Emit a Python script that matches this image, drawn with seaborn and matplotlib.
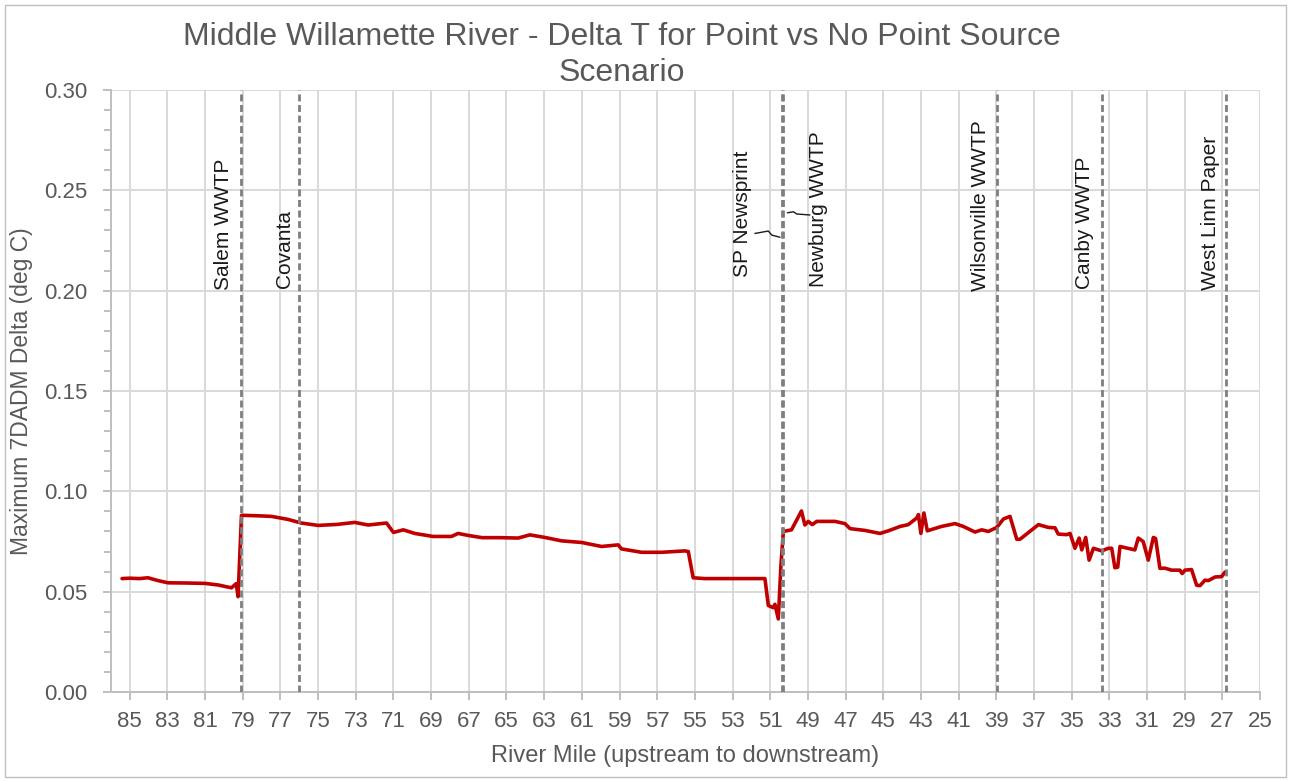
import matplotlib
matplotlib.use("Agg")
import matplotlib.pyplot as plt
import pandas as pd
import seaborn as sns
from matplotlib.ticker import MultipleLocator, FormatStrFormatter
from matplotlib.patches import Rectangle

# River mile (upstream -> downstream) and maximum 7DADM delta (deg C)
river_mile = [
    85.41, 85.0, 84.5, 84.03, 83.5, 82.97, 82.0, 81.0, 80.3, 79.6, 79.35, 79.25,
    79.07, 78.9, 78.2, 77.48, 76.6, 75.9, 75.0, 74.0, 73.05, 72.35, 71.37, 71.0,
    70.48, 69.87, 68.9, 67.92, 67.57, 67.03, 66.3, 65.35, 64.38, 63.76, 62.96,
    62.07, 61.01, 59.95, 59.07, 58.9, 57.83, 56.77, 55.53, 55.35, 55.09, 54.47,
    52.87, 51.28, 51.1, 50.84, 50.75, 50.57, 50.43, 50.3, 49.87, 49.34, 49.16,
    48.98, 48.77, 48.53, 47.56, 47.03, 46.76, 45.97, 45.17, 44.73, 44.1, 43.67,
    43.22, 43.13, 43.0, 42.84, 42.66, 41.9, 41.19, 40.75, 40.13, 39.77, 39.42,
    38.97, 38.62, 38.27, 37.91, 37.74, 36.76, 36.24, 35.88, 35.71, 35.26, 35.08,
    34.82, 34.6, 34.46, 34.25, 34.07, 33.84, 33.4, 33.05, 32.87, 32.7, 32.55,
    32.43, 31.64, 31.46, 31.2, 30.93, 30.66, 30.54, 30.31, 30.05, 29.69, 29.25,
    29.13, 28.98, 28.63, 28.36, 28.18, 27.92, 27.74, 27.38, 27.03, 26.85,
]
delta_t = [
    0.0565, 0.0567, 0.0565, 0.0569, 0.0555, 0.0544, 0.0543, 0.0541, 0.0533, 0.0519, 0.0540, 0.0475,
    0.0880, 0.0880, 0.0878, 0.0875, 0.0860, 0.0842, 0.0830, 0.0835, 0.0845, 0.0832, 0.0842, 0.0795,
    0.0808, 0.0790, 0.0775, 0.0775, 0.0790, 0.0780, 0.0769, 0.0769, 0.0767, 0.0783, 0.0770,
    0.0753, 0.0745, 0.0725, 0.0733, 0.0713, 0.0696, 0.0696, 0.0703, 0.0700, 0.0569, 0.0565,
    0.0565, 0.0565, 0.0431, 0.0420, 0.0437, 0.0364, 0.0632, 0.0800, 0.0808, 0.0902, 0.0832,
    0.0850, 0.0834, 0.0850, 0.0850, 0.0839, 0.0814, 0.0805, 0.0790, 0.0803, 0.0825, 0.0834,
    0.0867, 0.0884, 0.0790, 0.0892, 0.0803, 0.0825, 0.0839, 0.0825, 0.0797, 0.0808, 0.0800,
    0.0820, 0.0862, 0.0875, 0.0761, 0.0761, 0.0834, 0.0820, 0.0818, 0.0787, 0.0784, 0.0790,
    0.0716, 0.0767, 0.0708, 0.0770, 0.0657, 0.0716, 0.0703, 0.0716, 0.0716, 0.0619, 0.0622,
    0.0725, 0.0708, 0.0767, 0.0750, 0.0657, 0.0770, 0.0765, 0.0616, 0.0617, 0.0607, 0.0607,
    0.0590, 0.0607, 0.0610, 0.0532, 0.0530, 0.0557, 0.0555, 0.0573, 0.0575, 0.0598,
]

# Point sources along the reach
source_names = ["Salem WWTP", "Covanta", "SP Newsprint", "Newburg WWTP",
                "Wilsonville WWTP", "Canby WWTP", "West Linn Paper"]
source_miles = [79.1, 76.0, 50.4, 50.3, 38.95, 33.4, 26.8]
label_miles = [80.05, 76.8, 52.45, 48.45, 39.85, 34.3, 27.65]
label_base = [0.2003, 0.2013, 0.2068, 0.2018, 0.2000, 0.2008, 0.2005]

# Leader lines tying the two crowded labels to their source line
sp_leader_x = [51.81, 51.10, 50.92, 50.48]
sp_leader_y = [0.2285, 0.2297, 0.2277, 0.2266]
nb_leader_x = [48.89, 49.59, 49.77, 50.09]
nb_leader_y = [0.2377, 0.2382, 0.2393, 0.2388]

x_ticks = list(range(85, 24, -2))
y_ticks = [0.00, 0.05, 0.10, 0.15, 0.20, 0.25, 0.30]

sns.set_theme(style="whitegrid")
plt.rcParams["font.family"] = ["Liberation Sans", "DejaVu Sans"]

GRID = "#d9d9d9"
AXIS = "#bfbfbf"
TEXT = "#595959"

fig = plt.figure(figsize=(12.9, 7.81), dpi=100)
ax = fig.add_axes([0.0860, 0.1140, 0.8907, 0.7708])

df = pd.DataFrame({"mile": river_mile, "delta": delta_t})
sns.lineplot(data=df, x="mile", y="delta", ax=ax, color="#c00000",
             linewidth=2.6, sort=False, estimator=None, zorder=4)

for m in source_miles:
    ax.axvline(m, color="#7f7f7f", linewidth=2.0, dashes=(2.5, 1.3), zorder=5)

for name, lm, lb in zip(source_names, label_miles, label_base):
    ax.text(lm, lb, name, rotation=90, ha="center", va="bottom",
            fontsize=15, color="#1a1a1a", zorder=6)

ax.plot(sp_leader_x, sp_leader_y, color="#1a1a1a", linewidth=1.0, zorder=6)
ax.plot(nb_leader_x, nb_leader_y, color="#1a1a1a", linewidth=1.0, zorder=6)

ax.set_xlim(86, 25)
ax.set_ylim(0, 0.30)
ax.set_xticks(x_ticks)
ax.set_yticks(y_ticks)
ax.yaxis.set_major_formatter(FormatStrFormatter("%.2f"))
ax.yaxis.set_minor_locator(MultipleLocator(0.01))

ax.grid(True, which="major", color=GRID, linewidth=1.4)
ax.grid(False, which="minor")
for side in ["top", "right"]:
    ax.spines[side].set_visible(False)
for side in ["left", "bottom"]:
    ax.spines[side].set_color(AXIS)
    ax.spines[side].set_linewidth(1.4)

ax.tick_params(axis="x", which="major", bottom=True, direction="out", length=6,
               width=1.4, color=AXIS, labelsize=16, labelcolor=TEXT, pad=8)
ax.tick_params(axis="y", which="major", left=True, direction="out", length=6,
               width=1.4, color=AXIS, labelsize=16, labelcolor=TEXT, pad=11)
ax.tick_params(axis="y", which="minor", left=True, direction="out", length=5,
               width=1.4, color=AXIS)

ax.set_xlabel("River Mile (upstream to downstream)", fontsize=17, color=TEXT, labelpad=9)
ax.set_ylabel("Maximum 7DADM Delta (deg C)", fontsize=16.5, color=TEXT, labelpad=8)

fig.text(0.482, 0.9296,
         "Middle Willamette River - Delta T for Point vs No Point Source\nScenario",
         ha="center", va="center", fontsize=23, color=TEXT, linespacing=1.22)

fig.patches.append(Rectangle((4.5 / 1290, 4.5 / 781), 1281 / 1290, 772 / 781,
                             transform=fig.transFigure, fill=False,
                             edgecolor=AXIS, linewidth=1.0))

fig.savefig("out.png", dpi=100, facecolor="white")
